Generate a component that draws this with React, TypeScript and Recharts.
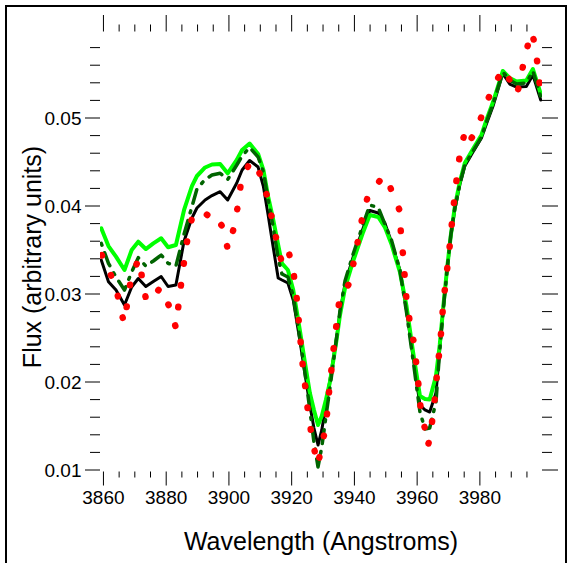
import React from "react";
import { LineChart, Line, XAxis, YAxis, Label } from "recharts";

// wavelength grid of the three model spectra (Angstroms)
const modelWl = [
  3859.3, 3861.6, 3864.0, 3866.7, 3869.0, 3871.1, 3873.5, 3875.9, 3878.4, 3880.6,
  3883.1, 3885.7, 3888.2, 3889.8, 3892.4, 3894.6, 3897.2, 3899.6, 3902.5, 3904.2,
  3906.6, 3909.3, 3911.0, 3912.5, 3914.0, 3915.7, 3916.9, 3918.8, 3920.5, 3922.6,
  3924.2, 3925.8, 3927.1, 3928.4, 3929.6, 3930.9, 3932.2, 3934.3, 3935.4, 3937.0,
  3939.6, 3942.8, 3944.9, 3947.6, 3949.7, 3951.8, 3954.5, 3956.6, 3958.7, 3960.9,
  3962.5, 3964.0, 3966.0, 3967.2, 3968.3, 3969.5, 3970.7, 3972.0, 3973.6, 3975.2,
  3977.8, 3980.5, 3982.2, 3984.2, 3987.3, 3989.5, 3991.7, 3994.8, 3996.9, 3999.4,
];

const blackFlux = [
  0.03386, 0.0314, 0.03045, 0.02875, 0.0308, 0.03176, 0.03085, 0.03142, 0.03199, 0.03085,
  0.03102, 0.03602, 0.03864, 0.03977, 0.04068, 0.04119, 0.04163, 0.04068, 0.04261, 0.04409,
  0.04517, 0.04443, 0.04219, 0.03898, 0.03557, 0.03182, 0.03159, 0.03125, 0.02932, 0.02477,
  0.02102, 0.01739, 0.01477, 0.01284, 0.01455, 0.01739, 0.02023, 0.025, 0.02795, 0.03114,
  0.0342, 0.0375, 0.03949, 0.0392, 0.03807, 0.03594, 0.03273, 0.02818, 0.02284, 0.01739,
  0.01682, 0.01659, 0.01875, 0.02364, 0.02818, 0.0325, 0.03648, 0.03955, 0.04239, 0.04455,
  0.04614, 0.04773, 0.04943, 0.05136, 0.05506, 0.05386, 0.05352, 0.05358, 0.05489, 0.05205,
];

const greenFlux = [
  0.03747, 0.03545, 0.03424, 0.03273, 0.035, 0.03594, 0.03511, 0.03576, 0.03633, 0.03531,
  0.03557, 0.03955, 0.04227, 0.04341, 0.04438, 0.04472, 0.04477, 0.04372, 0.04523, 0.04636,
  0.0471, 0.04591, 0.04409, 0.04106, 0.03864, 0.03557, 0.03347, 0.03273, 0.03045, 0.02591,
  0.02227, 0.01875, 0.01682, 0.01511, 0.01614, 0.01795, 0.02, 0.02477, 0.02761, 0.03068,
  0.03375, 0.03705, 0.03898, 0.03875, 0.03761, 0.03568, 0.0325, 0.02864, 0.02341, 0.01841,
  0.01807, 0.01801, 0.02068, 0.0242, 0.02841, 0.03273, 0.03659, 0.03989, 0.04273, 0.04489,
  0.04648, 0.04807, 0.04989, 0.05182, 0.05534, 0.05455, 0.05415, 0.05426, 0.05557, 0.05273,
];

const darkFlux = [
  0.03576, 0.03349, 0.03193, 0.03045, 0.0325, 0.03413, 0.03318, 0.03375, 0.03443, 0.03349,
  0.03318, 0.03682, 0.03992, 0.04193, 0.04301, 0.04352, 0.04372, 0.04301, 0.04466, 0.04568,
  0.04665, 0.04557, 0.04386, 0.04068, 0.03784, 0.03409, 0.03227, 0.03193, 0.02977, 0.025,
  0.02114, 0.01682, 0.01318, 0.01034, 0.01261, 0.01602, 0.01932, 0.025, 0.02807, 0.03148,
  0.03455, 0.03795, 0.04011, 0.03983, 0.03795, 0.03614, 0.03273, 0.02795, 0.0225, 0.01659,
  0.01466, 0.01477, 0.01773, 0.02364, 0.02818, 0.03261, 0.03659, 0.03977, 0.0425, 0.04466,
  0.04625, 0.04784, 0.04966, 0.05159, 0.05523, 0.05432, 0.05386, 0.05398, 0.05534, 0.05239,
];

// observed spectrum (red dotted)
const obsWl = [
  3859.49, 3862.36, 3864.59, 3866.18, 3866.59, 3867.45, 3868.5, 3870.73, 3871.53, 3872.23,
  3873.5, 3874.87, 3878.06, 3880.92, 3883.06, 3883.89, 3884.75, 3885.7, 3886.75, 3888.15,
  3890.8, 3893.44, 3895.25, 3898.03, 3899.62, 3901.53, 3902.8, 3903.76, 3906.4, 3907.83,
  3910.13, 3912.23, 3913.73, 3915.22, 3916.59, 3917.87, 3919.24, 3920.73, 3921.59, 3922.23,
  3922.87, 3923.5, 3924.33, 3925.1, 3926.15, 3927.42, 3928.22, 3929.01, 3930.38, 3931.34,
  3931.97, 3932.74, 3933.47, 3934.33, 3935.16, 3938.34, 3939.84, 3941.21, 3942.48, 3944.3,
  3948.44, 3950.03, 3951.85, 3954.49, 3954.81, 3955.54, 3956.08, 3956.62, 3957.68, 3959.04,
  3959.81, 3960.54, 3961.18, 3962.77, 3963.41, 3964.04, 3965.0, 3965.8, 3966.37, 3967.13,
  3967.77, 3968.28, 3969.04, 3969.87, 3970.64, 3971.27, 3972.01, 3972.87, 3973.82, 3975.51,
  3977.26, 3979.01, 3981.46, 3984.01, 3987.39, 3990.57, 3991.75, 3992.93, 3994.08, 3995.89,
  3996.53, 3997.71, 3998.54, 3999.3,
];

const obsFlux = [
  0.03443, 0.03216, 0.02977, 0.02724, 0.0267, 0.02864, 0.0311, 0.03356, 0.03398, 0.03197,
  0.02951, 0.02909, 0.03072, 0.02864, 0.02622, 0.02864, 0.03114, 0.03367, 0.03622, 0.03852,
  0.03955, 0.0389, 0.0392, 0.03758, 0.03511, 0.03747, 0.03992, 0.04244, 0.04477, 0.04511,
  0.04344, 0.04106, 0.0386, 0.03606, 0.03398, 0.03534, 0.03451, 0.03205, 0.02958, 0.02705,
  0.02447, 0.02201, 0.01947, 0.01693, 0.01443, 0.01197, 0.01057, 0.0117, 0.01409, 0.01656,
  0.01909, 0.02163, 0.02415, 0.02667, 0.0292, 0.03122, 0.03372, 0.03622, 0.03864, 0.04114,
  0.04303, 0.04341, 0.04174, 0.03943, 0.0369, 0.03432, 0.03178, 0.02926, 0.02676, 0.02432,
  0.02176, 0.01926, 0.01674, 0.01424, 0.01273, 0.0136, 0.01614, 0.01864, 0.02114, 0.02364,
  0.02619, 0.02875, 0.03122, 0.03378, 0.03633, 0.03883, 0.04133, 0.0439, 0.04636, 0.04883,
  0.04767, 0.04872, 0.0511, 0.05338, 0.0556, 0.05367, 0.05273, 0.05415, 0.05667, 0.05906,
  0.05977, 0.05807, 0.05553, 0.05307,
];

const xTicks = [
  3860, 3865, 3870, 3875, 3880, 3885, 3890, 3895, 3900, 3905, 3910, 3915, 3920, 3925,
  3930, 3935, 3940, 3945, 3950, 3955, 3960, 3965, 3970, 3975, 3980, 3985, 3990, 3995,
];
const yTicks = [
  0.01, 0.012, 0.014, 0.016, 0.018, 0.02, 0.022, 0.024, 0.026, 0.028, 0.03, 0.032,
  0.034, 0.036, 0.038, 0.04, 0.042, 0.044, 0.046, 0.048, 0.05, 0.052, 0.054, 0.056, 0.058,
];

const toRows = (wl: number[], f: number[]) => wl.map((w, i) => ({ w, f: f[i] }));
const blackData = toRows(modelWl, blackFlux);
const greenData = toRows(modelWl, greenFlux);
const darkData = toRows(modelWl, darkFlux);
const obsData = toRows(obsWl, obsFlux);

const FONT = "'Liberation Sans', Arial, Helvetica, sans-serif";
// plot box edges
const L = 100, R = 542, T = 31.5, B = 471.5;

const isMajorX = (v: number) => v % 20 === 0;
const isMajorY = (v: number) => Math.abs(v * 100 - Math.round(v * 100)) < 1e-6;

function BottomTick({ x, payload }: any) {
  const major = isMajorX(payload.value);
  return (
    <g>
      <line x1={x} x2={x} y1={B} y2={B + (major ? 14 : 6)} stroke="#000" strokeWidth={1} />
      {major && (
        <text x={x} y={503.5} textAnchor="middle" fontSize={19} fontFamily={FONT} fill="#000">
          {payload.value}
        </text>
      )}
    </g>
  );
}

function TopTick({ x, payload }: any) {
  const major = isMajorX(payload.value);
  return <line x1={x} x2={x} y1={T} y2={T - (major ? 16.5 : 7)} stroke="#000" strokeWidth={1} />;
}

function LeftTick({ y, payload }: any) {
  const major = isMajorY(payload.value);
  return (
    <g>
      <line x1={L - (major ? 15 : 10)} x2={L} y1={y} y2={y} stroke="#000" strokeWidth={1} />
      {major && (
        <text x={81.5} y={y + 6.8} textAnchor="end" fontSize={19} fontFamily={FONT} fill="#000">
          {payload.value.toFixed(2)}
        </text>
      )}
    </g>
  );
}

function RightTick({ y, payload }: any) {
  const major = isMajorY(payload.value);
  return <line x1={R} x2={R + (major ? 16 : 10)} y1={y} y2={y} stroke="#000" strokeWidth={1} />;
}

export default function App() {
  return (
    <div style={{ position: "fixed", left: 0, top: 0, width: 571, height: 563, background: "#fff", overflow: "hidden" }}>
      <div
        style={{
          position: "absolute", left: 5, top: 5, width: 562, height: 620,
          border: "2px solid #000", boxSizing: "border-box",
        }}
      />
      <div style={{ position: "absolute", left: 0, top: 0 }}>
        <LineChart width={571} height={563} margin={{ top: 11.5, right: 9, bottom: 61.5, left: 40 }}>
          <XAxis
            xAxisId="b" type="number" dataKey="w" domain={[3858.9, 3999.8]} allowDataOverflow
            ticks={xTicks} interval={0} tick={(p: any) => <BottomTick {...p} />}
            tickLine={false} axisLine={false} height={30}
          >
            <Label
              content={() => (
                <text x={321} y={549.5} textAnchor="middle" fontSize={25} fontFamily={FONT} fill="#000">
                  Wavelength (Angstroms)
                </text>
              )}
            />
          </XAxis>
          <XAxis
            xAxisId="t" orientation="top" type="number" dataKey="w" domain={[3858.9, 3999.8]} allowDataOverflow
            ticks={xTicks} interval={0} tick={(p: any) => <TopTick {...p} />}
            tickLine={false} axisLine={false} height={20}
          />
          <YAxis
            yAxisId="l" type="number" domain={[0.00983, 0.05983]} allowDataOverflow
            ticks={yTicks} interval={0} tick={(p: any) => <LeftTick {...p} />}
            tickLine={false} axisLine={false} width={60}
          >
            <Label
              content={() => (
                <text x={41} y={257} transform="rotate(-90 41 257)" textAnchor="middle" fontSize={25} fontFamily={FONT} fill="#000">
                  Flux (arbitrary units)
                </text>
              )}
            />
          </YAxis>
          <YAxis
            yAxisId="r" orientation="right" type="number" domain={[0.00983, 0.05983]} allowDataOverflow
            ticks={yTicks} interval={0} tick={(p: any) => <RightTick {...p} />}
            tickLine={false} axisLine={false} width={20}
          />
          <Line
            xAxisId="b" yAxisId="l" data={blackData} dataKey="f" type="linear"
            stroke="#000000" strokeWidth={3} strokeLinejoin="round" strokeLinecap="round"
            dot={false} activeDot={false} isAnimationActive={false}
          />
          <Line
            xAxisId="b" yAxisId="l" data={greenData} dataKey="f" type="linear"
            stroke="#00ff00" strokeWidth={4} strokeLinejoin="round" strokeLinecap="round"
            dot={false} activeDot={false} isAnimationActive={false}
          />
          <Line
            xAxisId="b" yAxisId="l" data={darkData} dataKey="f" type="linear"
            stroke="#006400" strokeWidth={3.5} strokeDasharray="2 8 14 8" strokeLinejoin="round" strokeLinecap="round"
            dot={false} activeDot={false} isAnimationActive={false}
          />
          <Line
            xAxisId="b" yAxisId="l" data={obsData} dataKey="f" type="linear"
            stroke="#ff0000" strokeWidth={6.5} strokeDasharray="0.5 21.5" strokeLinejoin="round" strokeLinecap="round"
            dot={false} activeDot={false} isAnimationActive={false}
          />
        </LineChart>
      </div>
    </div>
  );
}
